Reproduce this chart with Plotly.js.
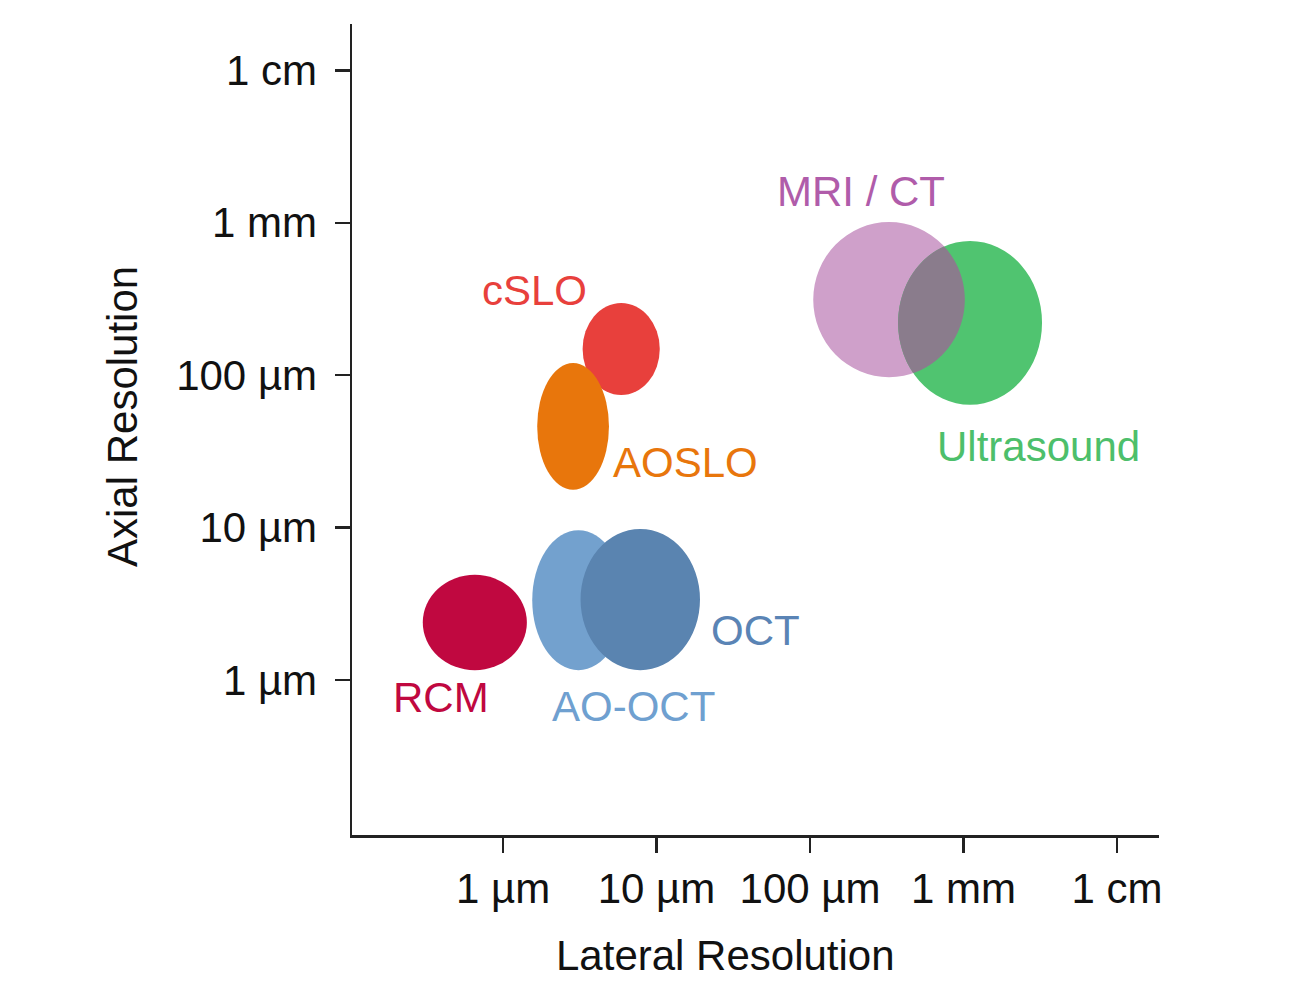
<!DOCTYPE html>
<html>
<head>
<meta charset="utf-8">
<script src="https://cdn.plot.ly/plotly-3.0.1.min.js"></script>
<style>
  html, body { margin: 0; padding: 0; background: #ffffff; }
  #chart { width: 1312px; height: 1000px; }
</style>
</head>
<body>
<div id="chart"></div>
<script>
// ---- Data (resolutions in micrometres) ----
const modalities   = ['MRI / CT', 'Ultrasound', 'cSLO', 'AOSLO', 'AO-OCT', 'OCT', 'RCM'];
const lateralMin   = [105, 375, 3.3, 1.67, 1.55, 3.2, 0.30];
const lateralMax   = [1020, 3250, 10.5, 4.9, 6.2, 19.2, 1.43];
const axialMin     = [97, 64, 74, 17.7, 1.16, 1.16, 1.16];
const axialMax     = [1010, 760, 298, 120, 9.6, 9.8, 4.9];

const tickVals = [1, 10, 100, 1000, 10000];
const tickText = ['1 \u00b5m', '10 \u00b5m', '100 \u00b5m', '1 mm', '1 cm'];

// ---- Styles ----
const fillColors  = ['#cfa0ca', '#50c470', '#e8403c', '#e8760c', '#73a1ce', '#5a84b0', '#c00840'];
const labelColors = ['#b05caa', '#4dbf6b', '#e8403c', '#e8760c', '#6fa0d0', '#5a84b5', '#c00840'];
const overlapColor = '#8a7c8c';
// label anchor positions (log10 of micrometres)
const labelPos = [
  [2.332, 3.202], [3.492, 1.529], [0.205, 2.556], [1.186, 1.430],
  [0.853, -0.171], [1.642, 0.322], [-0.404, -0.118]
];

const FONT = 'Liberation Sans, Arial, Helvetica, sans-serif';
const L = Math.log10;

function ell(i) {
  const x0 = L(lateralMin[i]), x1 = L(lateralMax[i]);
  const y0 = L(axialMin[i]), y1 = L(axialMax[i]);
  return {cx: (x0 + x1) / 2, cy: (y0 + y1) / 2, rx: (x1 - x0) / 2, ry: (y1 - y0) / 2};
}
function inside(e, x, y) {
  const dx = (x - e.cx) / e.rx, dy = (y - e.cy) / e.ry;
  return dx * dx + dy * dy <= 1.000001;
}

const shapes = [];
function addEllipse(i) {
  shapes.push({
    type: 'circle', xref: 'x', yref: 'y', layer: 'above',
    x0: lateralMin[i], x1: lateralMax[i],
    y0: axialMin[i], y1: axialMax[i],
    fillcolor: fillColors[i], line: {width: 0}
  });
}
addEllipse(0);
addEllipse(1);

// overlap lens of MRI/CT and Ultrasound (computed in log space)
(function () {
  const a = ell(0), b = ell(1);
  const pts = [];
  const N = 720;
  for (let k = 0; k < N; k++) {
    const t = 2 * Math.PI * k / N;
    const ax = a.cx + a.rx * Math.cos(t), ay = a.cy + a.ry * Math.sin(t);
    if (inside(b, ax, ay)) pts.push([ax, ay]);
    const bx = b.cx + b.rx * Math.cos(t), by = b.cy + b.ry * Math.sin(t);
    if (inside(a, bx, by)) pts.push([bx, by]);
  }
  if (pts.length > 2) {
    let mx = 0, my = 0;
    pts.forEach(p => { mx += p[0]; my += p[1]; });
    mx /= pts.length; my /= pts.length;
    const ang = p => Math.atan2((p[1] - my) / b.ry, (p[0] - mx) / b.rx);
    pts.sort((p, q) => ang(p) - ang(q));
    const path = 'M ' + pts.map(p => Math.pow(10, p[0]).toFixed(4) + ',' + Math.pow(10, p[1]).toFixed(4)).join(' L ') + ' Z';
    shapes.push({type: 'path', xref: 'x', yref: 'y', layer: 'above', path: path, fillcolor: overlapColor, line: {width: 0}});
  }
})();

[2, 3, 4, 5, 6].forEach(addEllipse);

const annotations = modalities.map((m, i) => ({
  x: labelPos[i][0], y: labelPos[i][1], xref: 'x', yref: 'y',
  text: m, showarrow: false, xanchor: 'center', yanchor: 'middle',
  font: {family: FONT, size: 42, color: labelColors[i]}
}));
annotations.push({
  x: (725 - 352) / 807, y: (835 - 955) / 811, xref: 'paper', yref: 'paper',
  text: 'Lateral Resolution', showarrow: false, xanchor: 'center', yanchor: 'middle',
  font: {family: FONT, size: 42, color: '#111'}
});
annotations.push({
  x: (122 - 352) / 807, y: (835 - 417) / 811, xref: 'paper', yref: 'paper',
  text: 'Axial Resolution', textangle: -90, showarrow: false, xanchor: 'center', yanchor: 'middle',
  font: {family: FONT, size: 42, color: '#111'}
});

const axisCommon = {
  type: 'log', tickmode: 'array', tickvals: tickVals, ticktext: tickText,
  showgrid: false, zeroline: false, showline: true, linecolor: '#222', linewidth: 2.5,
  ticks: 'outside', ticklen: 15, tickwidth: 2.5, tickcolor: '#222',
  tickfont: {family: FONT, size: 42, color: '#111'}, fixedrange: true
};

const layout = {
  width: 1312, height: 1000,
  margin: {l: 352, r: 153, t: 24, b: 165},
  paper_bgcolor: '#ffffff', plot_bgcolor: '#ffffff',
  showlegend: false,
  xaxis: Object.assign({}, axisCommon, {range: [-0.984, 4.274], ticklabelstandoff: 0}),
  yaxis: Object.assign({}, axisCommon, {range: [-1.017, 4.304], ticklabelstandoff: 9}),
  shapes: shapes,
  annotations: annotations
};

Plotly.newPlot('chart', [], layout, {displayModeBar: false, staticPlot: true});
</script>
</body>
</html>
